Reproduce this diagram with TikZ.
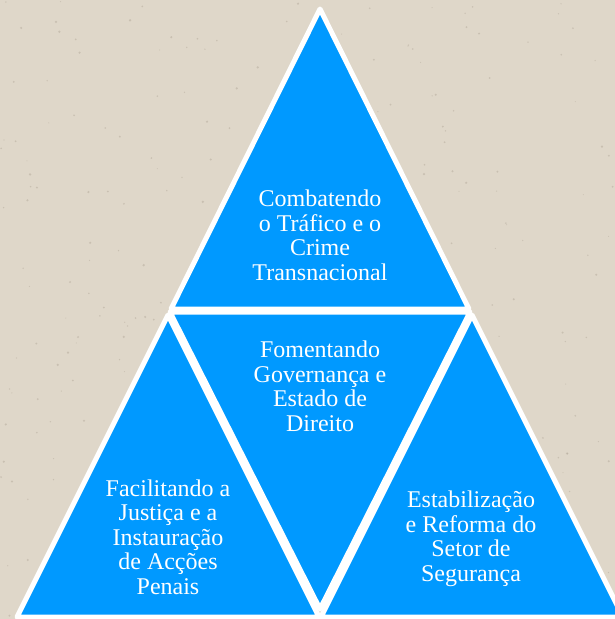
\documentclass[tikz,border=0pt]{standalone}
\usepackage{fontspec}
\setmainfont{Liberation Serif}
\definecolor{paper}{RGB}{223,215,201}
\definecolor{speck}{RGB}{180,170,155}
\definecolor{tri}{RGB}{0,153,255}
\tikzset{
  piece/.style={fill=tri,draw=white,line width=5pt,line join=round},
  tritext/.style={text=white,align=center,inner sep=0pt,anchor=base,
    font=\fontsize{24}{24.4}\selectfont}
}
\begin{document}
\begin{tikzpicture}[x=1pt,y=-1pt]

        \fill[paper] (0,0) rectangle (615,619);
        \useasboundingbox (0,0) rectangle (615,619);

        % paper speckles
        \pgfmathsetseed{11}
        \foreach \i in {1,...,300} {
          \fill[speck,opacity=.5] (rnd*615,rnd*619) circle (0.5+rnd*0.8);
        }

        % the four triangles
        \draw[piece] (320,9)   -- (469,309) -- (171,309) -- cycle;
        \draw[piece] (170,312) -- (470,312) -- (320,609) -- cycle;
        \draw[piece] (168,315) -- (319,617) -- (17,617)  -- cycle;
        \draw[piece] (472,315) -- (623,617) -- (321,617) -- cycle;

        % base anchor sits on the last line
        \node[tritext] (trafico)  at (320,280) {Combatendo\\o Tráfico e o\\Crime\\Transnacional};
        \node[tritext] (governo)  at (320,431) {Fomentando\\Governança e\\Estado de\\Direito};
        \node[tritext] (justica)  at (168,594) {Facilitando a\\Justiça e a\\Instauração\\de Acções\\Penais};
        \node[tritext] (seguranca) at (471,581) {Estabilização\\e Reforma do\\Setor de\\Segurança};

      \end{tikzpicture}
\end{document}
